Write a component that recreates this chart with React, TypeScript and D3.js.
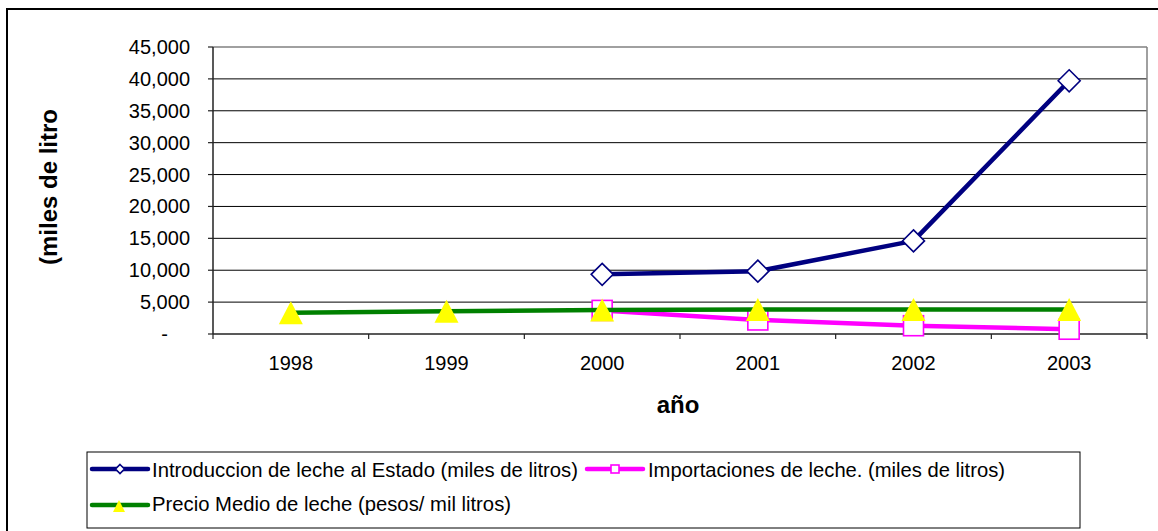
import React from "react";
import * as d3 from "d3";

const years = ["1998", "1999", "2000", "2001", "2002", "2003"];
const introduccion: (number | null)[] = [null, null, 9350, 9850, 14600, 39700];
const importaciones: (number | null)[] = [null, null, 3700, 2200, 1300, 750];
const precio: (number | null)[] = [3350, 3550, 3750, 3850, 3850, 3850];
const yTicks = [0, 5000, 10000, 15000, 20000, 25000, 30000, 35000, 40000, 45000];

const seriesNames = [
  "Introduccion de leche al Estado (miles de litros)",
  "Importaciones de leche. (miles de litros)",
  "Precio Medio de leche (pesos/ mil litros)",
];

const FONT = "'Liberation Sans', Arial, Helvetica, sans-serif";
const NAVY = "#000080";
const PINK = "#FF00FF";
const GREEN = "#008000";
const YELLOW = "#FFFF00";

const plot = { left: 213, right: 1147, top: 47, bottom: 334 };

const fmt = (v: number) => (v === 0 ? "-" : d3.format(",")(v));

function Diamond({ x, y, r, color }: { x: number; y: number; r: number; color: string }) {
  return (
    <path
      d={`M${x},${y - r}L${x + r},${y}L${x},${y + r}L${x - r},${y}Z`}
      fill="#fff"
      stroke={color}
      strokeWidth={1.6}
    />
  );
}
function Square({ x, y, r, color }: { x: number; y: number; r: number; color: string }) {
  return <rect x={x - r} y={y - r} width={2 * r} height={2 * r} fill="#fff" stroke={color} strokeWidth={1.6} />;
}
function Triangle({ x, y, w, h }: { x: number; y: number; w: number; h: number }) {
  return <path d={`M${x},${y - h / 2}L${x + w / 2},${y + h / 2}L${x - w / 2},${y + h / 2}Z`} fill={YELLOW} />;
}

export default function App() {
  const x = d3.scaleBand<string>().domain(years).range([plot.left, plot.right]).padding(0);
  const y = d3.scaleLinear().domain([0, 45000]).range([plot.bottom, plot.top]);
  const cx = (yr: string) => (x(yr) as number) + x.bandwidth() / 2;

  const line = d3
    .line<[string, number | null]>()
    .defined((d) => d[1] !== null)
    .x((d) => cx(d[0]))
    .y((d) => y(d[1] as number));

  const pts = (vals: (number | null)[]) =>
    years.map((yr, i) => [yr, vals[i]] as [string, number | null]);

  const boundaries = years.map((yr) => x(yr) as number).concat([plot.right]);

  return (
    <svg
      width={1158}
      height={531}
      style={{ position: "absolute", left: 0, top: 0, background: "#fff" }}
      fontFamily={FONT}
    >
      <rect x={0} y={0} width={1158} height={531} fill="#fff" />
      {/* outer border */}
      <rect x={7} y={9} width={1170} height={540} fill="none" stroke="#000" strokeWidth={2} />

      {/* gridlines */}
      {yTicks.slice(1, -1).map((t) => (
        <line key={t} x1={plot.left} x2={plot.right} y1={y(t)} y2={y(t)} stroke="#000" strokeWidth={1} />
      ))}
      {/* plot border top/right */}
      <line x1={plot.left} x2={plot.right} y1={plot.top} y2={plot.top} stroke="#808080" strokeWidth={1.5} />
      <line x1={plot.right} x2={plot.right} y1={plot.top} y2={plot.bottom} stroke="#808080" strokeWidth={1.5} />

      {/* axes */}
      <line x1={plot.left} x2={plot.left} y1={plot.top} y2={plot.bottom} stroke="#222" strokeWidth={1.5} />
      <line x1={plot.left} x2={plot.right} y1={plot.bottom} y2={plot.bottom} stroke="#222" strokeWidth={1.5} />
      {yTicks.map((t) => (
        <g key={t}>
          <line x1={plot.left - 5} x2={plot.left} y1={y(t)} y2={y(t)} stroke="#222" strokeWidth={1.2} />
          <text
            x={t === 0 ? 168 : 190}
            y={y(t)}
            dy="0.35em"
            textAnchor="end"
            fontSize={20}
            fill="#000"
          >
            {fmt(t)}
          </text>
        </g>
      ))}
      {boundaries.map((b, i) => (
        <line key={i} x1={b} x2={b} y1={plot.bottom} y2={plot.bottom + 5} stroke="#222" strokeWidth={1.2} />
      ))}
      {years.map((yr) => (
        <text key={yr} x={cx(yr)} y={370} textAnchor="middle" fontSize={20} fill="#000">
          {yr}
        </text>
      ))}

      {/* axis titles */}
      <text x={678} y={413} textAnchor="middle" fontSize={24} fontWeight="bold" fill="#000">
        año
      </text>
      <text
        transform="translate(57,187) rotate(-90)"
        textAnchor="middle"
        fontSize={24}
        fontWeight="bold"
        fill="#000"
      >
        (miles de litro
      </text>

      {/* series: Introduccion */}
      <path d={line(pts(introduccion)) || ""} fill="none" stroke={NAVY} strokeWidth={4.5} strokeLinejoin="round" />
      {years.map((yr, i) =>
        introduccion[i] !== null ? (
          <Diamond key={yr} x={cx(yr)} y={y(introduccion[i] as number)} r={11} color={NAVY} />
        ) : null
      )}

      {/* series: Importaciones */}
      <path d={line(pts(importaciones)) || ""} fill="none" stroke={PINK} strokeWidth={4.5} strokeLinejoin="round" />
      {years.map((yr, i) =>
        importaciones[i] !== null ? (
          <Square key={yr} x={cx(yr)} y={y(importaciones[i] as number)} r={10} color={PINK} />
        ) : null
      )}

      {/* series: Precio */}
      <path d={line(pts(precio)) || ""} fill="none" stroke={GREEN} strokeWidth={4.5} strokeLinejoin="round" />
      {years.map((yr, i) =>
        precio[i] !== null ? <Triangle key={yr} x={cx(yr)} y={y(precio[i] as number)} w={24} h={23} /> : null
      )}

      {/* legend */}
      <rect x={87} y={452} width={993} height={76} fill="#fff" stroke="#000" strokeWidth={1} />
      <line x1={92} x2={148} y1={469} y2={469} stroke={NAVY} strokeWidth={4.5} strokeLinecap="round" />
      <Diamond x={120} y={469} r={4.5} color={NAVY} />
      <text x={152} y={477} fontSize={21} textLength={426} lengthAdjust="spacingAndGlyphs" fill="#000">
        {seriesNames[0]}
      </text>

      <line x1={587} x2={643} y1={469} y2={469} stroke={PINK} strokeWidth={4.5} strokeLinecap="round" />
      <Square x={615} y={469} r={4} color={PINK} />
      <text x={648} y={477} fontSize={21} textLength={357} lengthAdjust="spacingAndGlyphs" fill="#000">
        {seriesNames[1]}
      </text>

      <line x1={92} x2={148} y1={505} y2={505} stroke={GREEN} strokeWidth={4.5} strokeLinecap="round" />
      <Triangle x={119} y={506} w={12} h={12} />
      <text x={152} y={511} fontSize={21} textLength={359} lengthAdjust="spacingAndGlyphs" fill="#000">
        {seriesNames[2]}
      </text>
    </svg>
  );
}
